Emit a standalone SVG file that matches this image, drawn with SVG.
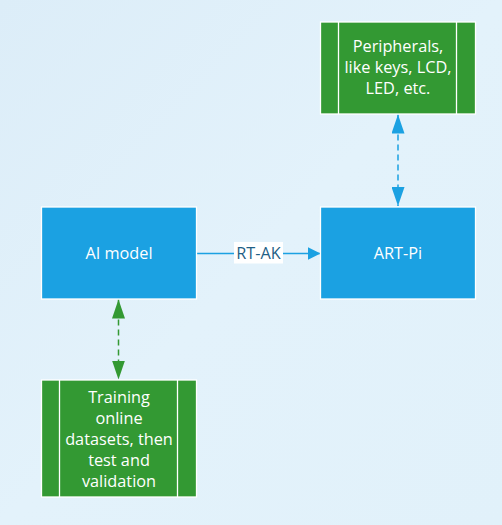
<svg xmlns="http://www.w3.org/2000/svg" width="502" height="525" viewBox="0 0 502 525">
<style>
.box{stroke:#ffffff;stroke-width:1.3}
.blue{fill:#1ba1e2}
.green{fill:#339933}
.div{stroke:#ffffff;stroke-width:1.3}
.t{font-family:"Open Sans","Noto Sans","DejaVu Sans",sans-serif;font-size:16.3px;fill:#ffffff;text-anchor:middle}
.lbl{font-family:"Open Sans","Noto Sans","DejaVu Sans",sans-serif;font-size:16.3px;fill:#1f5f86;text-anchor:middle}
.solid{stroke:#1ba1e2;stroke-width:1.3;fill:none}
.dashB{stroke:#1ba1e2;stroke-width:1.5;fill:none;stroke-dasharray:6 4}
.dashG{stroke:#339933;stroke-width:1.5;fill:none;stroke-dasharray:6 4}
</style>
<defs>
<linearGradient id="bg" x1="0" y1="0" x2="1" y2="1">
<stop offset="0" stop-color="#dcedf8"/>
<stop offset="0.5" stop-color="#e3f2fb"/>
<stop offset="1" stop-color="#e1f1fa"/>
</linearGradient>
<marker id="aBlue" viewBox="0 0 13 13" refX="13" refY="6.5" markerWidth="13" markerHeight="13" markerUnits="userSpaceOnUse" orient="auto">
<path d="M0,0 L13,6.5 L0,13 z" fill="#1ba1e2"/>
</marker>
<marker id="dBlue" viewBox="0 0 19 13" refX="19" refY="6.5" markerWidth="19" markerHeight="13" markerUnits="userSpaceOnUse" orient="auto-start-reverse">
<path d="M0,0 L19,6.5 L0,13 z" fill="#1ba1e2"/>
</marker>
<marker id="dGreen" viewBox="0 0 19 13" refX="19" refY="6.5" markerWidth="19" markerHeight="13" markerUnits="userSpaceOnUse" orient="auto-start-reverse">
<path d="M0,0 L19,6.5 L0,13 z" fill="#339933"/>
</marker>
</defs>
<rect x="0" y="0" width="502" height="525" fill="url(#bg)"/>

<g id="connectors">
<path class="solid" d="M196.5,253.5 L320.5,253.5" marker-end="url(#aBlue)"/>
<rect x="234" y="242" width="49" height="21.5" fill="#ffffff"/>
<text class="lbl" x="258.5" y="259">RT-AK</text>
<path class="dashB" d="M398,114.5 L398,206" marker-start="url(#dBlue)" marker-end="url(#dBlue)"/>
<path class="dashG" d="M118.5,299.5 L118.5,379.5" marker-start="url(#dGreen)" marker-end="url(#dGreen)"/>
</g>

<g id="ai-model">
<rect class="box blue" x="41.5" y="207" width="155" height="92"/>
<text class="t" x="119" y="258.5">AI model</text>
</g>

<g id="art-pi">
<rect class="box blue" x="320.5" y="207" width="155" height="92"/>
<text class="t" x="398" y="258.5">ART-Pi</text>
</g>

<g id="peripherals">
<rect class="box green" x="320.5" y="22" width="155" height="92"/>
<line class="div" x1="338.5" y1="22" x2="338.5" y2="114"/>
<line class="div" x1="456.5" y1="22" x2="456.5" y2="114"/>
<text class="t" x="398" y="52">Peripherals,</text>
<text class="t" x="398" y="73">like keys, LCD,</text>
<text class="t" x="398" y="94">LED, etc.</text>
</g>

<g id="training">
<rect class="box green" x="41.5" y="380" width="155" height="117"/>
<line class="div" x1="59.5" y1="380" x2="59.5" y2="497"/>
<line class="div" x1="177.5" y1="380" x2="177.5" y2="497"/>
<text class="t" x="119" y="403">Training</text>
<text class="t" x="119" y="424">online</text>
<text class="t" x="119" y="445">datasets, then</text>
<text class="t" x="119" y="466">test and</text>
<text class="t" x="119" y="487">validation</text>
</g>
</svg>
